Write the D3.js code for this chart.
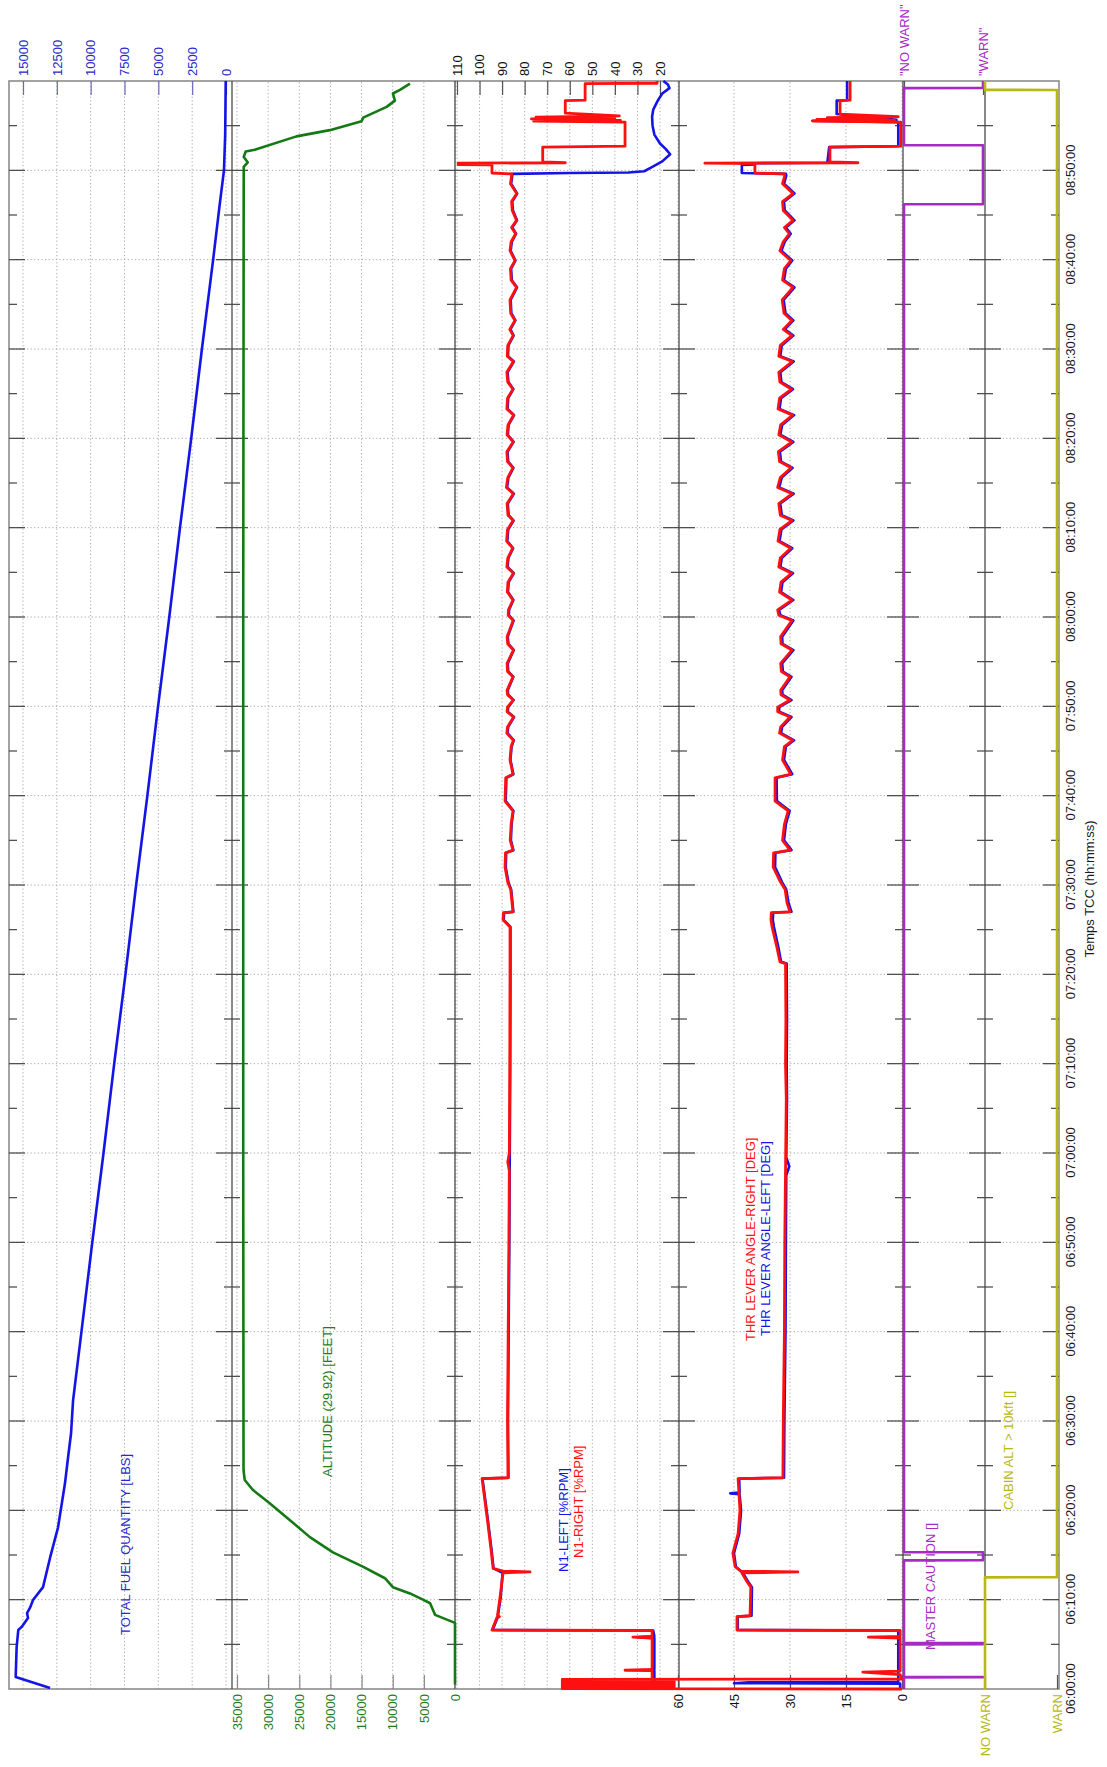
<!DOCTYPE html>
<html>
<head>
<meta charset="utf-8">
<title>Flight data</title>
<script src="https://cdn.jsdelivr.net/npm/d3@7"></script>
<style>
  body { margin: 0; background: #fff; }
  svg text { font-family: "Liberation Sans", Arial, sans-serif; }
</style>
</head>
<body>
<svg id="chart" width="1107" height="1767"></svg>
<script>
/// DATA - time is minutes after 06:00:00 ///
var timeTicks = [0, 10, 20, 30, 40, 50, 60, 70, 80, 90, 100, 110, 120, 130, 140, 150, 160, 170];
var timeTickLabels = ["06:00:00", "06:10:00", "06:20:00", "06:30:00", "06:40:00", "06:50:00",
  "07:00:00", "07:10:00", "07:20:00", "07:30:00", "07:40:00", "07:50:00",
  "08:00:00", "08:10:00", "08:20:00", "08:30:00", "08:40:00", "08:50:00"];
var fuelTicks = [0, 2500, 5000, 7500, 10000, 12500, 15000];
var altTicks = [0, 5000, 10000, 15000, 20000, 25000, 30000, 35000];
var n1Ticks = [20, 30, 40, 50, 60, 70, 80, 90, 100, 110];
var tlaTicks = [0, 15, 30, 45, 60];
var warnTicks = [0, 1];
var cautionLabels = ['"NO WARN"', '"WARN"'];
var cabinLabels = ["NO WARN", "WARN"];

var fuelQuantity = [[0.1, 13000], [1.34, 15540], [4.7, 15470], [6.6, 15350], [6.95, 15100], [7.95, 14630],
  [8.5, 14700], [9.1, 14480], [9.96, 14260], [11.4, 13520], [14.7, 13000], [18.1, 12410], [23.0, 11900],
  [25.8, 11680], [28.6, 11450], [32.3, 11300], [40, 10680], [50, 9880], [60, 9050], [70, 8260], [80, 7430],
  [90, 6640], [100, 5810], [110, 5020], [120, 4190], [130, 3400], [140, 2570], [150, 1780], [160, 950],
  [166, 480], [170, 150], [174, 60], [180, 20]];

var altitude = [[0.5, 0], [7.4, 0], [8.3, 3200], [9.6, 4000], [10.0, 5150], [10.7, 7230], [11.4, 9970],
  [12.4, 11250], [13.7, 14800], [15.3, 19600], [17.0, 23300], [18.9, 26500], [20.8, 29750], [22.3, 32480],
  [23.4, 33760], [24.5, 33950], [60, 34000], [120, 34000], [170.4, 33920], [170.9, 33280], [171.5, 33920],
  [172.1, 33600], [172.3, 32150], [173.8, 25450], [174.5, 20100], [175.5, 15000], [175.9, 14740],
  [177.1, 10980], [177.8, 9650], [178.6, 9970], [179.0, 8840], [179.7, 7230]];

// N1 and throttle, before cruise oscillations
var n1RightStart = [[0, 22], [1.2, 23.5], [2.05, 23.5], [2.1, 35.5], [2.2, 23.5], [5.7, 23.5], [5.8, 32],
  [5.9, 23.5], [6.55, 23.5], [6.6, 94.5], [8.0, 92.3], [8.1, 91.2], [8.3, 92], [10.3, 90.9], [13.0, 89.6],
  [13.1, 77.6], [13.2, 89.6], [13.5, 94], [15.6, 94.9], [19.3, 96.7], [23.55, 98.9], [23.65, 87.4],
  [30, 87.6], [40, 87.3], [50, 87.0], [58, 86.8], [59, 87.5], [60, 86.8], [70, 86.6], [80, 86.5]];
var n1LeftStart = [[0, 22.5], [2.05, 22.5], [2.1, 27], [2.2, 22.5], [5.7, 22.5], [5.8, 30], [5.9, 22.5],
  [6.55, 23], [6.6, 94.2], [8.0, 92.0], [10.3, 90.6], [13.0, 89.8], [13.5, 93.8], [15.6, 94.7],
  [19.3, 96.5], [23.55, 98.7], [23.65, 87.2], [30, 87.4], [40, 87.1], [50, 86.8], [60, 86.6], [70, 86.4],
  [80, 86.3]];
var tlaRightStart = [[0.0, 0], [0.04, 91], [0.08, 61], [0.12, 91], [0.16, 61], [0.2, 91], [0.24, 61],
  [0.28, 91], [0.32, 61], [0.36, 91], [0.4, 61], [0.44, 91], [0.48, 61], [0.52, 91], [0.56, 61],
  [0.6, 91], [0.64, 61], [0.68, 91], [0.72, 61], [0.76, 91], [0.8, 61], [0.84, 91], [0.88, 61],
  [0.92, 91], [0.96, 61], [1.0, 91], [1.04, 61], [1.08, 91], [1.12, 0], [1.6, 0.5],
  [1.9, 10.5], [2.0, 0.5], [5.7, 0.5], [5.8, 9], [5.9, 0.5], [6.55, 0.5], [6.6, 44.2], [8.1, 44.2],
  [8.2, 40.7], [11.4, 40.5], [12.0, 41.5], [13.0, 42.9], [13.1, 27.9], [13.2, 43.2], [13.7, 44.7],
  [15.2, 45.3], [17.4, 43.9], [20.0, 43.4], [23.55, 43.9], [23.65, 31.9], [30, 31.8], [40, 31.5],
  [50, 31.4], [58, 31.2], [66, 31.0], [70, 31.2], [75, 31.1], [81.2, 31.2], [81.4, 32.7], [83, 33.5]];
var tlaLeftStart = [[0, 0.5], [0.6, 0.5], [0.65, 45], [0.75, 41], [0.8, 1], [6.55, 1], [6.6, 44],
  [8.1, 44], [8.2, 40.3], [11.4, 40.2], [12.0, 41.2], [13.0, 42.6], [13.7, 44.5], [15.2, 45.0],
  [17.4, 43.6], [20.0, 43.1], [21.8, 43.5], [21.9, 46], [22.0, 43.5], [23.55, 43.6], [23.65, 31.6],
  [30, 31.5], [40, 31.2], [50, 31.1], [57.5, 31.0], [58.5, 30.2], [59.5, 31.0], [66, 30.8], [70, 30.9],
  [75, 30.8], [81.2, 30.9], [81.4, 32.4], [83, 33.1]];

// cruise oscillations, shared sample times
var cruiseTimes = [85.3, 86.1, 86.9, 87.0, 88.0, 89.5, 90.3, 92.0, 93.6, 93.9,
  95.0, 96.8, 98.3, 99.4, 102.0, 102.4, 104.0, 105.5, 106.2, 107.0,
  107.7, 108.8, 109.4, 109.9, 110.7, 111.3, 111.8, 113.3, 113.9, 114.8,
  116.3, 117.0, 117.8, 119.6, 120.2, 120.8, 121.9, 122.8, 123.9, 124.9,
  125.6, 126.6, 127.7, 128.5, 129.8, 130.8, 131.4, 132.7, 133.8, 134.5,
  135.6, 136.7, 137.4, 138.5, 139.6, 140.4, 141.5, 142.6, 143.3, 144.5,
  145.5, 146.3, 147.4, 148.6, 149.2, 150.4, 151.5, 152.2, 153.2, 154.0,
  155.5, 156.9, 157.7, 159.0, 159.9, 161.0, 162.0, 162.9, 163.6, 164.4,
  165.5, 166.5, 167.4, 168.5, 169.4];
var n1RightCruise = [86.5, 89.6, 89.4, 85.2, 85.6, 86.2, 87.5, 88.7, 88.5, 85.2,
  86.4, 86.0, 85.2, 88.7, 88.4, 85.2, 86.5, 86.0, 85.0, 87.9,
  87.6, 84.9, 87.8, 87.6, 85.1, 87.6, 87.8, 85.2, 87.6, 87.8,
  85.0, 87.5, 87.8, 85.1, 87.3, 87.2, 85.2, 87.7, 87.4, 85.0,
  87.9, 87.5, 85.3, 88.0, 87.6, 85.1, 87.4, 87.8, 85.0, 88.1,
  87.5, 85.2, 87.6, 87.9, 85.1, 87.8, 87.4, 84.9, 87.9, 87.6,
  85.2, 87.5, 87.9, 85.0, 87.7, 87.5, 85.1, 86.6, 84.3, 86.2,
  86.5, 83.6, 86.0, 86.3, 84.3, 86.5, 86.0, 84.0, 85.8, 83.6,
  85.5, 85.8, 83.5, 86.3, 85.8];
var n1LeftCruise = [86.3, 89.3, 89.1, 85.0, 85.4, 86.0, 87.2, 88.4, 88.2, 85.0,
  86.1, 85.8, 85.0, 88.4, 88.1, 85.0, 86.3, 85.8, 84.8, 87.6,
  87.3, 84.7, 87.5, 87.3, 84.9, 87.3, 87.5, 85.0, 87.3, 87.5,
  84.8, 87.2, 87.5, 84.9, 87.0, 86.9, 85.0, 87.4, 87.1, 84.8,
  87.6, 87.2, 85.1, 87.7, 87.3, 84.9, 87.1, 87.5, 84.8, 87.8,
  87.2, 85.0, 87.3, 87.6, 84.9, 87.5, 87.1, 84.7, 87.6, 87.3,
  85.0, 87.2, 87.6, 84.8, 87.4, 87.2, 84.9, 86.3, 84.1, 85.9,
  86.2, 83.4, 85.7, 86.0, 84.1, 86.2, 85.7, 83.8, 85.5, 83.4,
  85.2, 85.5, 83.3, 86.0, 85.5];
var tlaRightCruise = [34.8, 35.1, 35.0, 30.0, 30.8, 31.3, 32.5, 34.5, 34.4, 30.0,
  32.0, 31.5, 30.5, 34.0, 34.0, 29.8, 32.0, 31.5, 29.3, 32.8,
  32.5, 30.0, 33.3, 33.3, 30.0, 32.4, 32.5, 30.0, 32.3, 32.5,
  29.5, 32.4, 32.5, 29.5, 33.0, 33.3, 29.5, 32.8, 32.4, 29.6,
  33.0, 32.6, 29.8, 33.2, 32.7, 29.5, 32.6, 33.0, 29.4, 33.3,
  32.6, 29.7, 32.8, 33.1, 29.5, 33.0, 32.5, 29.3, 33.2, 32.8,
  29.6, 32.7, 33.0, 29.4, 33.0, 32.6, 29.5, 31.8, 29.5, 31.6,
  32.1, 29.2, 32.0, 31.5, 29.8, 32.7, 31.8, 30.2, 31.5, 29.2,
  31.8, 32.0, 29.2, 32.0, 31.4];
var tlaLeftCruise = [34.3, 34.6, 34.5, 29.6, 30.4, 31.0, 32.1, 34.0, 33.9, 29.6,
  31.6, 31.1, 30.1, 33.5, 33.6, 29.4, 31.6, 31.1, 28.9, 32.4,
  32.1, 29.6, 32.9, 32.9, 29.6, 32.0, 32.1, 29.6, 31.9, 32.1,
  29.1, 32.0, 32.1, 29.1, 32.6, 32.9, 29.1, 32.4, 32.0, 29.2,
  32.6, 32.2, 29.4, 32.8, 32.3, 29.1, 32.2, 32.6, 29.0, 32.9,
  32.2, 29.3, 32.4, 32.7, 29.1, 32.6, 32.1, 28.9, 32.8, 32.4,
  29.2, 32.3, 32.6, 29.0, 32.6, 32.2, 29.1, 31.4, 29.1, 31.2,
  31.7, 28.8, 31.6, 31.1, 29.4, 32.3, 31.4, 29.8, 31.1, 28.8,
  31.4, 31.6, 28.8, 31.6, 31.0];

// N1 and throttle, engine flame-outs
var n1RightEnd = [[169.6, 85.8], [169.7, 94.5], [170.6, 94.5], [170.65, 109.5], [170.8, 109.5],
  [170.85, 62], [170.95, 72], [172.6, 72], [172.7, 35.5], [175.4, 35.5], [175.5, 76], [175.6, 37.5],
  [175.75, 77], [175.85, 40], [175.95, 75], [176.1, 38], [176.4, 62], [177.8, 62], [177.85, 53.2],
  [179.7, 53.2], [179.75, 21.3], [180, 21.3]];
var n1LeftEnd = [[169.6, 85.6], [169.7, 60], [169.75, 34], [169.9, 27], [170.3, 24], [171.0, 19],
  [171.8, 15.5], [172.4, 17.5], [173.0, 20], [174.0, 22.5], [175.0, 23.3], [176.0, 23.5], [176.8, 23],
  [177.8, 21], [178.6, 19], [179.2, 15.8], [179.6, 16.5], [180, 18.5]];
var tlaRightEnd = [[169.6, 31.5], [169.7, 39.4], [170.75, 39.4], [170.8, 52.8], [170.85, 11.8],
  [170.95, 19.3], [172.6, 19.3], [172.7, 0.3], [175.4, 0.3], [175.5, 23.8], [175.6, 2], [175.7, 22.8],
  [175.8, 3.8], [175.9, 20], [176.0, 1], [176.3, 16.6], [177.8, 16.6], [177.85, 13.9], [180, 13.9]];
var tlaLeftEnd = [[169.6, 31.1], [169.7, 42.9], [170.6, 42.9], [170.65, 39.4], [170.8, 39.4],
  [170.85, 20], [172.6, 19.5], [172.7, 1], [175.4, 1], [175.55, 24], [175.65, 1.5], [176.3, 17.5],
  [177.8, 17.5], [177.85, 14.7], [180, 14.7]];

// discrete: 0 = NO WARN, 1 = WARN
var masterCaution = [[0, 0], [1.3, 0], [1.31, 1], [1.33, 1], [1.34, 0], [5.0, 0], [5.01, 1], [5.15, 1],
  [5.16, 0], [14.4, 0], [14.41, 1], [15.3, 1], [15.31, 0], [166.2, 0], [166.21, 1], [172.8, 1],
  [172.81, 0], [179.2, 0], [179.21, 1], [180, 1]];
var cabinAltitude = [[0, 0], [12.5, 0], [12.51, 1], [179.0, 1], [179.01, 0], [180, 0]];

/// LAYOUT - drawn landscape, then turned a quarter turn ///
var X0 = 78, X1 = 1686;
var panelEdges = [9, 232, 455, 679, 903, 985, 1059];
var COLOR = {
  BLUE: "#1414e6", RED: "#ff1010", GREEN: "#137a13", PURPLE: "#a82ac4", OLIVE: "#b8b814",
  FUEL_TEXT: "#2a2ac8", ALT_TEXT: "#1e7e1e", GRID: "#a8a8a8"
};

var svg = d3.select("#chart");
svg.append("rect").attr("width", 1107).attr("height", 1767).attr("fill", "#fff");
var chart = svg.append("g").attr("transform", "translate(0,1767) rotate(-90)");

var x = d3.scaleLinear().domain([0, 180]).range([X0, X1]);
var yFuel = d3.scaleLinear().domain([0, 15000]).range([226, 23]);
var yAlt = d3.scaleLinear().domain([0, 35000]).range([455, 237]);
var yN1 = d3.scaleLinear().domain([20, 110]).range([660, 457]);
var yTla = d3.scaleLinear().domain([0, 60]).range([902, 678]);
var yCaution = d3.scaleLinear().domain([0, 1]).range([904, 983]);
var yCabin = d3.scaleLinear().domain([0, 1]).range([985, 1057]);

// GRID: dotted lines
var grid = chart.append("g").attr("class", "grid");
grid.selectAll(".tgrid")
  .data(timeTicks.slice(1))
  .enter()
  .append("line")
  .attr("x1", function (d) { return x(d); })
  .attr("x2", function (d) { return x(d); })
  .attr("y1", panelEdges[0])
  .attr("y2", panelEdges[panelEdges.length - 1]);

[[yFuel, fuelTicks], [yAlt, altTicks], [yN1, n1Ticks], [yTla, tlaTicks]].forEach(function (p) {
  grid.append("g")
    .selectAll("line")
    .data(p[1])
    .enter()
    .append("line")
    .attr("x1", X0)
    .attr("x2", X1)
    .attr("y1", function (d) { return p[0](d); })
    .attr("y2", function (d) { return p[0](d); });
});
grid.selectAll("line")
  .attr("stroke", COLOR.GRID)
  .attr("stroke-width", 1)
  .attr("stroke-dasharray", "1.2,2.4");

// FRAME: outer box and panel dividers
chart.append("rect")
  .attr("x", X0)
  .attr("y", panelEdges[0])
  .attr("width", X1 - X0)
  .attr("height", panelEdges[panelEdges.length - 1] - panelEdges[0])
  .attr("fill", "none")
  .attr("stroke", "#8c8c8c")
  .attr("stroke-width", 1.6);

chart.append("g")
  .selectAll("line")
  .data(panelEdges.slice(1, -1))
  .enter()
  .append("line")
  .attr("x1", X0)
  .attr("x2", X1)
  .attr("y1", function (d) { return d; })
  .attr("y2", function (d) { return d; })
  .attr("stroke", "#3c3c3c")
  .attr("stroke-width", 1.2);

// time tick marks on every panel edge
var timeMarks = d3.range(5, 180, 5);
panelEdges.forEach(function (edge, k) {
  chart.append("g")
    .selectAll("line")
    .data(timeMarks)
    .enter()
    .append("line")
    .attr("x1", function (d) { return x(d); })
    .attr("x2", function (d) { return x(d); })
    .attr("y1", function (d) { return k === 0 ? edge : edge - (d % 10 === 0 ? 16 : 8); })
    .attr("y2", function (d) { return k === panelEdges.length - 1 ? edge : edge + (d % 10 === 0 ? 16 : 8); })
    .attr("stroke", "#444")
    .attr("stroke-width", 1.2);
});

// HELPER FUNCTION: value axis on one side of a panel
function drawValueAxis(side, scale, ticks, format, textColor, tickColor) {
  var axis = (side === "right" ? d3.axisRight(scale) : d3.axisLeft(scale))
    .tickValues(ticks)
    .tickSize(-14)
    .tickPadding(5)
    .tickFormat(format);
  var g = chart.append("g")
    .attr("transform", "translate(" + (side === "right" ? X1 : X0) + ",0)")
    .call(axis)
    .attr("font-size", 13);
  g.select(".domain").remove();
  g.selectAll(".tick line").attr("stroke", tickColor).attr("stroke-width", 1.2);
  g.selectAll(".tick text").attr("fill", textColor);
}

drawValueAxis("right", yFuel, fuelTicks, d3.format("d"), COLOR.FUEL_TEXT, "#6a6ab8");
drawValueAxis("left", yAlt, altTicks, d3.format("d"), COLOR.ALT_TEXT, "#888");
drawValueAxis("right", yN1, n1Ticks, d3.format("d"), "#111", "#555");
drawValueAxis("left", yTla, tlaTicks, d3.format("d"), "#111", "#555");
drawValueAxis("right", yCaution, warnTicks, function (d) { return cautionLabels[d]; }, COLOR.PURPLE, "#555");
drawValueAxis("left", yCabin, warnTicks, function (d) { return cabinLabels[d]; }, COLOR.OLIVE, "#555");

// time axis labels
var timeAxis = chart.append("g")
  .attr("transform", "translate(0," + panelEdges[panelEdges.length - 1] + ")")
  .call(d3.axisBottom(x)
    .tickValues(timeTicks)
    .tickSize(0)
    .tickPadding(7)
    .tickFormat(function (d, i) { return timeTickLabels[i]; }))
  .attr("font-size", 13);
timeAxis.select(".domain").remove();
timeAxis.selectAll("text").attr("fill", "#1a1a1a");

chart.append("text")
  .attr("x", (X0 + X1) / 2 - 4)
  .attr("y", 1094)
  .attr("text-anchor", "middle")
  .attr("font-size", 13)
  .attr("fill", "#1a1a1a")
  .text("Temps TCC (hh:mm:ss)");

/// SERIES ///
function joinCruise(start, values, end) {
  return start.concat(cruiseTimes.map(function (t, i) { return [t, values[i]]; }), end);
}
var n1Right = joinCruise(n1RightStart, n1RightCruise, n1RightEnd);
var n1Left = joinCruise(n1LeftStart, n1LeftCruise, n1LeftEnd);
var tlaRight = joinCruise(tlaRightStart, tlaRightCruise, tlaRightEnd);
var tlaLeft = joinCruise(tlaLeftStart, tlaLeftCruise, tlaLeftEnd);

function drawSeries(data, scale, color, width) {
  chart.append("path")
    .datum(data)
    .attr("d", d3.line()
      .x(function (d) { return x(d[0]); })
      .y(function (d) { return scale(d[1]); }))
    .attr("fill", "none")
    .attr("stroke", color)
    .attr("stroke-width", width)
    .attr("stroke-linejoin", "round");
}

drawSeries(fuelQuantity, yFuel, COLOR.BLUE, 2.6);
drawSeries(altitude, yAlt, COLOR.GREEN, 2.6);
drawSeries(n1Left, yN1, COLOR.BLUE, 2.6);
drawSeries(n1Right, yN1, COLOR.RED, 2.8);
drawSeries(tlaLeft, yTla, COLOR.BLUE, 2.6);
drawSeries(tlaRight, yTla, COLOR.RED, 2.8);
drawSeries(masterCaution, yCaution, COLOR.PURPLE, 2.6);
drawSeries(cabinAltitude, yCabin, COLOR.OLIVE, 2.6);

/// ANNOTATIONS ///
var notes = [
  ["TOTAL FUEL QUANTITY [LBS]", 132, 125, COLOR.FUEL_TEXT],
  ["ALTITUDE (29.92) [FEET]", 290, 327, COLOR.ALT_TEXT],
  ["N1-LEFT [%RPM]", 195, 563, COLOR.BLUE],
  ["N1-RIGHT [%RPM]", 209, 578, COLOR.RED],
  ["THR LEVER ANGLE-RIGHT [DEG]", 426, 750, COLOR.RED],
  ["THR LEVER ANGLE-LEFT [DEG]", 431, 765, COLOR.BLUE],
  ["MASTER CAUTION []", 117, 930, COLOR.PURPLE],
  ["CABIN ALT > 10kft []", 257, 1008, COLOR.OLIVE]
];
chart.append("g")
  .selectAll("text")
  .data(notes)
  .enter()
  .append("text")
  .attr("x", function (d) { return d[1]; })
  .attr("y", function (d) { return d[2]; })
  .attr("dy", "0.35em")
  .attr("font-size", 13)
  .attr("fill", function (d) { return d[3]; })
  .text(function (d) { return d[0]; });
</script>
</body>
</html>
